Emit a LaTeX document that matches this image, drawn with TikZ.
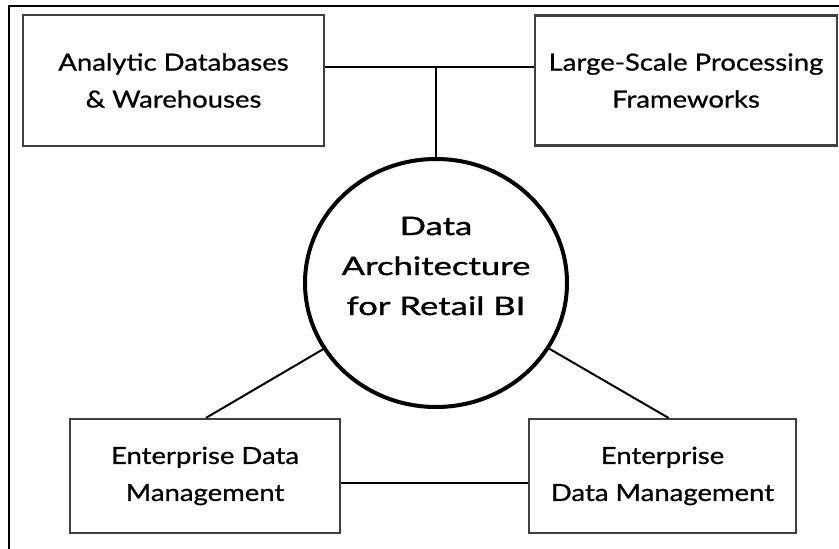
\documentclass[tikz,border=0pt]{standalone}
\usepackage{fontspec}
\setmainfont{Lato}[FakeStretch=1.17,FakeBold=0.8]
\newfontfamily\hubfont{Lato}[FakeStretch=1.36,FakeBold=1.1]
\usetikzlibrary{shapes.geometric}
\begin{document}
\begin{tikzpicture}[x=1pt,y=-1pt,
  boxnode/.style={draw=black!75,line width=2.2pt,rectangle,align=center,font=\fontsize{23.5}{37}\selectfont,inner sep=0pt},
  hub/.style={draw=black,line width=4pt,ellipse,minimum width=262pt,minimum height=248pt,inner sep=0pt},
  hubtext/.style={align=center,font=\hubfont\fontsize{25.5}{40}\selectfont,inner sep=0pt},
  link/.style={draw=black,line width=2pt}]
\useasboundingbox (0,0) rectangle (839,549);
\clip (0,0) rectangle (839,549);
\draw[line width=2pt] (9,560) -- (9,6) -- (850,6);
\node[boxnode,minimum width=301pt,minimum height=131pt] (tl) at (173.5,80.5) {Analytic Databases\\\& Warehouses};
\node[boxnode,minimum width=302pt,minimum height=130pt] (tr) at (686,80.5) {Large-Scale Processing\\Frameworks};
\node[boxnode,minimum width=270pt,minimum height=114pt] (bl) at (205,476) {Enterprise Data\\Management};
\node[boxnode,minimum width=267pt,minimum height=114pt] (br) at (662.5,476) {Enterprise\\Data Management};
\node[hub] (c) at (436,283) {};
\node[hubtext] (ct) at (436,266) {Data\\Architecture\\for Retail BI};
\coordinate (j) at (436,67);
\coordinate (m) at (436,483);
\draw[link] (tl.east |- j) -- (tr.west |- j);
\draw[link] (j) -- (c.north);
\draw[link] ([xshift=1pt]bl.north) -- (c);
\draw[link] ([xshift=6pt]br.north) -- (c);
\draw[link] (bl.east |- m) -- (br.west |- m);
\end{tikzpicture}
\end{document}
